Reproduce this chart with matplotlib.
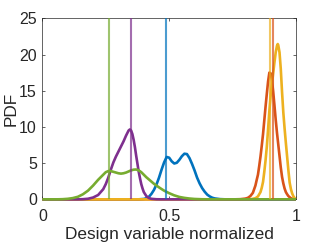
import matplotlib
matplotlib.use("Agg")
import matplotlib.pyplot as plt

plt.rcParams['font.family'] = ['Liberation Sans', 'DejaVu Sans']

# ---- data ----
blue_x = [0.0, 0.38, 0.40, 0.41, 0.42, 0.43, 0.44, 0.45, 0.46, 0.47, 0.48, 0.49, 0.50, 0.51,
          0.52, 0.53, 0.54, 0.55, 0.56, 0.57, 0.58, 0.59, 0.60, 0.61, 0.62, 0.63, 0.64,
          0.65, 0.66, 0.67, 0.68, 0.70, 0.72, 1.0]
blue_y = [0.0, 0.0, 0.05, 0.15, 0.35, 0.75, 1.3, 2.05, 3.0, 4.1, 5.1, 5.85, 5.75, 5.25,
          4.95, 5.05, 5.45, 5.95, 6.3, 6.25, 5.7, 4.9, 4.0, 3.0, 2.2, 1.55, 1.05,
          0.65, 0.4, 0.22, 0.12, 0.03, 0.0, 0.0]

orange_x = [0.0, 0.76, 0.78, 0.80, 0.81, 0.82, 0.83, 0.84, 0.845, 0.85, 0.855, 0.86, 0.865,
            0.87, 0.875, 0.88, 0.885, 0.89, 0.895, 0.90, 0.905, 0.91, 0.915, 0.92, 0.925,
            0.93, 0.935, 0.94, 0.945, 0.95, 0.955, 0.96, 0.965, 0.97, 0.98, 0.99, 1.0]
orange_y = [0.0, 0.0, 0.02, 0.1, 0.2, 0.45, 0.9, 1.9, 2.67, 3.4, 4.6, 5.9, 7.4,
            9.0, 10.9, 12.8, 14.6, 16.3, 17.5, 17.4, 16.5, 14.9, 13.0, 11.0, 9.2,
            7.6, 6.0, 4.4, 3.1, 2.2, 1.5, 1.0, 0.7, 0.45, 0.15, 0.04, 0.0]

yellow_x = [0.0, 0.82, 0.84, 0.85, 0.86, 0.865, 0.87, 0.875, 0.88, 0.885, 0.89, 0.895, 0.90,
            0.905, 0.91, 0.915, 0.92, 0.925, 0.928, 0.93, 0.935, 0.94, 0.945, 0.95, 0.955,
            0.96, 0.965, 0.97, 0.975, 0.98, 0.985, 0.99, 0.995, 1.0]
yellow_y = [0.0, 0.0, 0.15, 0.4, 1.0, 1.6, 2.4, 3.8, 5.4, 7.3, 9.7, 12.2, 14.3,
            15.9, 17.4, 18.9, 20.3, 21.2, 21.45, 21.3, 20.3, 18.0, 14.8, 12.0, 9.8,
            7.8, 5.9, 4.0, 2.3, 1.4, 0.8, 0.4, 0.15, 0.05]

purple_x = [0.0, 0.14, 0.16, 0.18, 0.20, 0.22, 0.24, 0.25, 0.26, 0.27, 0.28, 0.29, 0.30,
            0.31, 0.32, 0.33, 0.34, 0.345, 0.35, 0.355, 0.36, 0.365, 0.37, 0.375, 0.38,
            0.385, 0.39, 0.395, 0.40, 0.41, 0.42, 0.43, 0.45, 0.47, 1.0]
purple_y = [0.0, 0.0, 0.02, 0.08, 0.25, 0.6, 1.4, 2.1, 3.0, 4.1, 5.1, 5.9, 6.6,
            7.3, 8.0, 8.8, 9.5, 9.65, 9.5, 9.0, 8.2, 7.2, 6.0, 4.9, 3.8,
            2.9, 2.1, 1.5, 1.0, 0.45, 0.18, 0.07, 0.01, 0.0, 0.0]

green_x = [0.0, 0.06, 0.08, 0.10, 0.12, 0.14, 0.16, 0.18, 0.20, 0.22, 0.24, 0.25, 0.26,
           0.27, 0.28, 0.29, 0.30, 0.31, 0.32, 0.33, 0.34, 0.35, 0.36, 0.37, 0.38,
           0.39, 0.40, 0.41, 0.42, 0.43, 0.44, 0.45, 0.46, 0.47, 0.48, 0.50, 0.52,
           0.54, 0.56, 0.58, 0.60, 0.63, 0.66, 1.0]
green_y = [0.0, 0.0, 0.02, 0.07, 0.17, 0.35, 0.7, 1.2, 1.9, 2.7, 3.4, 3.75, 3.9,
           3.9, 3.8, 3.7, 3.6, 3.55, 3.6, 3.7, 3.85, 4.0, 4.1, 4.12, 4.0,
           3.75, 3.4, 3.05, 2.75, 2.45, 2.15, 1.9, 1.65, 1.42, 1.2, 0.85, 0.55,
           0.33, 0.2, 0.11, 0.05, 0.01, 0.0, 0.0]

# vertical markers (same order: blue, orange, yellow, purple, green)
vline_x = [0.486, 0.911, 0.899, 0.348, 0.2615]

x_ticks = [0, 0.5, 1]
x_tick_labels = ['0', '0.5', '1']
y_ticks = [0, 5, 10, 15, 20, 25]

colors = ['#0072BD', '#D95319', '#EDB120', '#7E2F8E', '#77AC30']

fig = plt.figure(figsize=(3.27, 2.45), dpi=100)
ax = fig.add_axes([0.1295, 0.1864, 0.7757, 0.7388])

series = [(blue_x, blue_y), (orange_x, orange_y), (yellow_x, yellow_y),
          (purple_x, purple_y), (green_x, green_y)]
for (xs, ys), c in zip(series, colors):
    ax.plot(xs, ys, color=c, lw=1.9, clip_on=False, solid_capstyle='butt',
            solid_joinstyle='round', zorder=2)

for xv, c in zip(vline_x, colors):
    ax.axvline(xv, color=c, alpha=0.7, lw=1.5, zorder=3)

ax.set_xlim(0, 1)
ax.set_ylim(0, 25)
ax.set_xticks(x_ticks)
ax.set_xticklabels(x_tick_labels)
ax.set_yticks(y_ticks)

for s in ax.spines.values():
    s.set_color('#262626')
    s.set_linewidth(0.5)
    s.set_zorder(1)

ax.tick_params(direction='in', length=2.5, width=0.5, color='#262626',
               top=True, right=True, labelsize=11.5, labelcolor='#262626')
ax.tick_params(axis='x', pad=7)
ax.tick_params(axis='y', pad=4)

ax.set_xlabel('Design variable normalized', fontsize=12.4, color='#262626', labelpad=2)
ax.set_ylabel('PDF', fontsize=12.4, color='#262626', labelpad=0)

fig.savefig('out.png', dpi=100)
